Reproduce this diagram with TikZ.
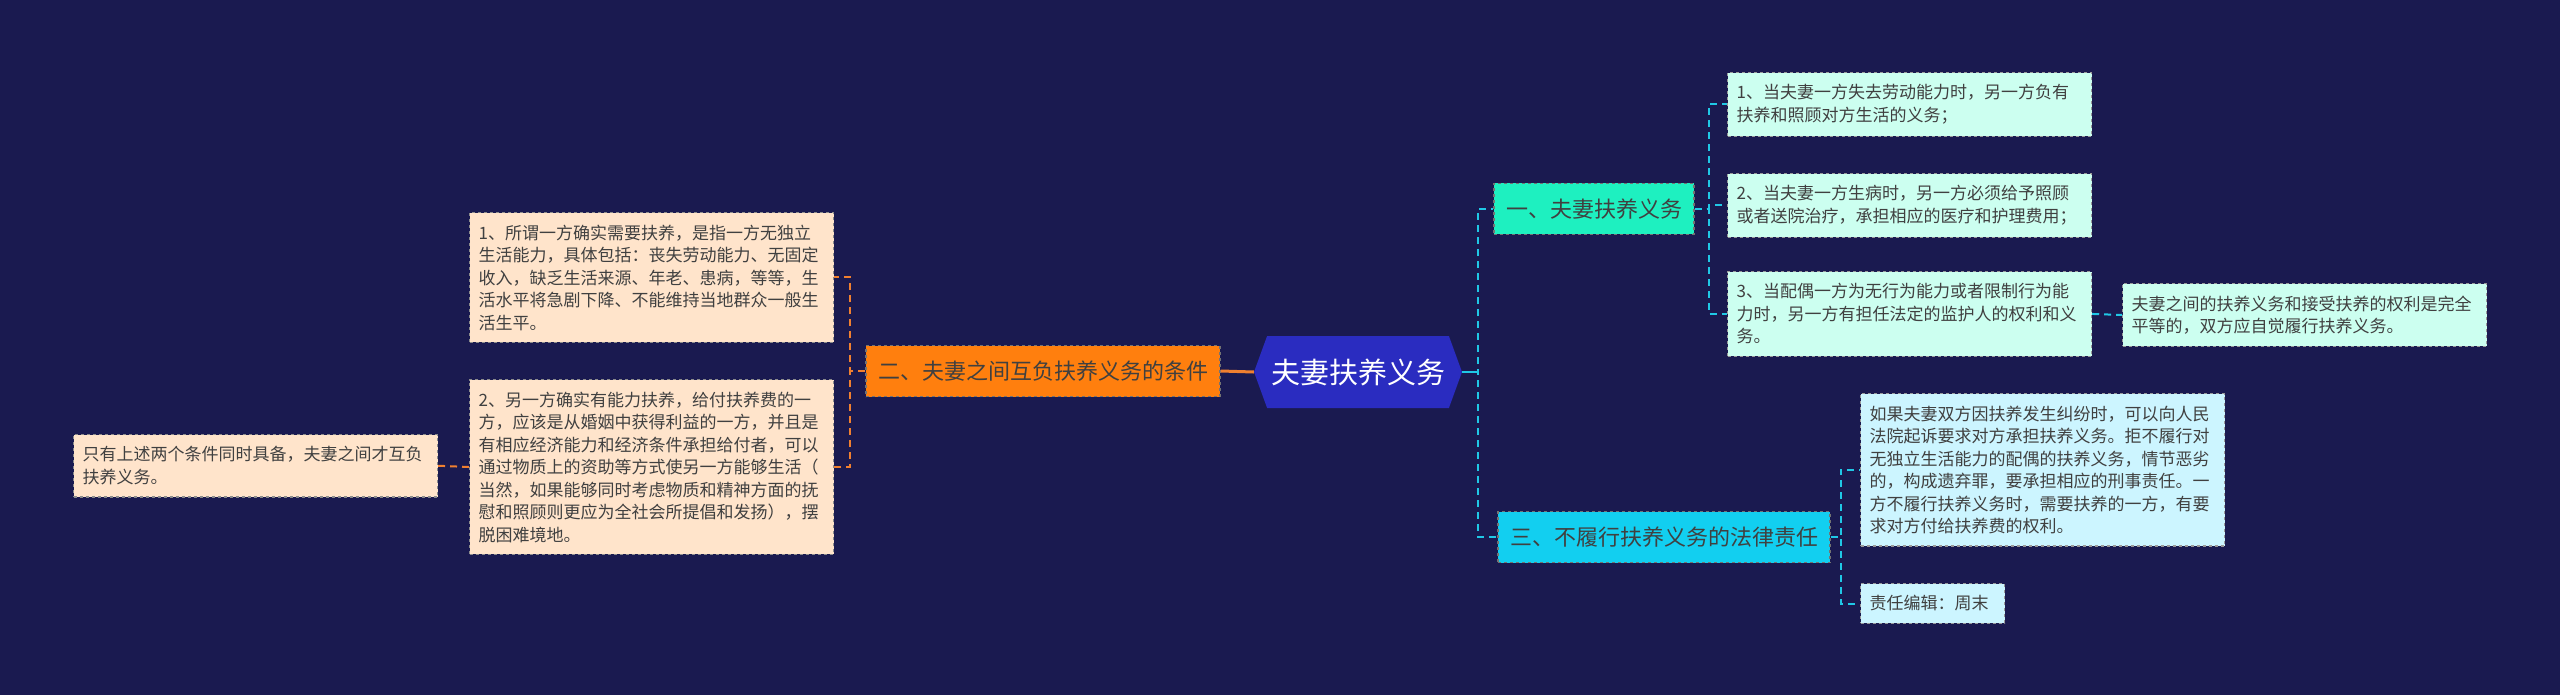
\documentclass[tikz,border=0pt]{standalone}
\usepackage{fontspec}
\setmainfont{Noto Sans CJK SC}
\usepackage{tikz}
\usetikzlibrary{positioning,shapes.symbols}
\usepackage{xcolor}

\definecolor{bgnavy}{HTML}{1A1A50}
\definecolor{rootblue}{HTML}{2A2CC0}
\definecolor{orangefill}{HTML}{FF7F0E}
\definecolor{peachfill}{HTML}{FFE4CB}
\definecolor{aquafill}{HTML}{1EF0C0}
\definecolor{cyanfill}{HTML}{12CFF0}
\definecolor{mintfill}{HTML}{CCFFF0}
\definecolor{icefill}{HTML}{CCF5FF}
\definecolor{lline}{HTML}{F08030}
\definecolor{rline}{HTML}{20C8E6}

\tikzset{
  leaf/.style={draw=#1, dashed, line width=1.2pt, anchor=north west,
    text width=346pt, inner xsep=9pt, inner ysep=12pt, align=left,
    text=black!75, font=\fontsize{17pt}{22.5pt}\selectfont},
  branch/.style={draw=black!55, dashed, line width=1.2pt, inner xsep=12pt,
    minimum height=51pt, text=black!75, font=\fontsize{22pt}{26pt}\selectfont},
  lconn/.style={draw=lline, line width=2pt, dash pattern=on 7pt off 5pt},
  rconn/.style={draw=rline, line width=2pt, dash pattern=on 7pt off 5pt},
}

\begin{document}
\begin{tikzpicture}[x=1pt, y=-1pt]
    % background
    \fill[bgnavy] (0,0) rectangle (2560,695);

    % Root
    \node[shape=signal, signal to=east and west, signal pointer angle=140,
      fill=rootblue, minimum width=208pt, minimum height=72pt, text=white,
      font=\fontsize{29pt}{34pt}\selectfont] (root) at (1358,372) {夫妻扶养义务};

    % Left branch
    \node[branch, fill=orangefill] (cond) at (1043,371) {二、夫妻之间互负扶养义务的条件};
    \node[leaf=black!45, fill=peachfill] (condA) at (469,212)
      {1、所谓一方确实需要扶养，是指一方无独立\\生活能力，具体包括：丧失劳动能力、无固定\\收入，缺乏生活来源、年老、患病，等等，生\\活水平将急剧下降、不能维持当地群众一般生\\活生平。};
    \node[leaf=black!45, fill=peachfill] (condB) at (469,379)
      {2、另一方确实有能力扶养，给付扶养费的一\\方，应该是从婚姻中获得利益的一方，并且是\\有相应经济能力和经济条件承担给付者，可以\\通过物质上的资助等方式使另一方能够生活（\\当然，如果能够同时考虑物质和精神方面的抚\\慰和照顾则更应为全社会所提倡和发扬），摆\\脱困难境地。};
    \node[leaf=black!45, fill=peachfill] (condC) at (73,434)
      {只有上述两个条件同时具备，夫妻之间才互负\\扶养义务。};

    \draw[lconn, solid, line width=3pt] (root.west) -- (cond.east);
    \draw[lconn] (cond.west) -- ++(-15,0) |- (condA.east);
    \draw[lconn] (cond.west) -- ++(-15,0) |- (condB.east);
    \draw[lconn] (condB.west) -- (condC.east);

    % Right branch: duty
    \node[branch, fill=aquafill] (duty) at (1594,209) {一、夫妻扶养义务};
    \node[leaf=black!40, fill=mintfill] (dutyA) at (1727,72)
      {1、当夫妻一方失去劳动能力时，另一方负有\\扶养和照顾对方生活的义务；};
    \node[leaf=black!40, fill=mintfill] (dutyB) at (1727,173)
      {2、当夫妻一方生病时，另一方必须给予照顾\\或者送院治疗，承担相应的医疗和护理费用；};
    \node[leaf=black!40, fill=mintfill] (dutyC) at (1727,271)
      {3、当配偶一方为无行为能力或者限制行为能\\力时，另一方有担任法定的监护人的权利和义\\务。};
    \node[leaf=black!40, fill=mintfill] (dutyD) at (2122,283)
      {夫妻之间的扶养义务和接受扶养的权利是完全\\平等的，双方应自觉履行扶养义务。};

    % Right branch: liability
    \node[branch, fill=cyanfill] (liab) at (1664,537) {三、不履行扶养义务的法律责任};
    \node[leaf=black!40, fill=icefill] (liabA) at (1860,393)
      {如果夫妻双方因扶养发生纠纷时，可以向人民\\法院起诉要求对方承担扶养义务。拒不履行对\\无独立生活能力的配偶的扶养义务，情节恶劣\\的，构成遗弃罪，要承担相应的刑事责任。一\\方不履行扶养义务时，需要扶养的一方，有要\\求对方付给扶养费的权利。};
    \node[leaf=black!40, fill=icefill, text width=126pt] (liabB) at (1860,583)
      {责任编辑：周末};

    \draw[rconn, solid] (root.east) -- ++(16,0);
    \draw[rconn] (root.east) -- ++(16,0) |- (duty.west);
    \draw[rconn] (root.east) -- ++(16,0) |- (liab.west);
    \draw[rconn] (duty.east) -- ++(14,0) |- (dutyA.west);
    \draw[rconn] (duty.east) -- ++(14,0) |- (dutyB.west);
    \draw[rconn] (duty.east) -- ++(14,0) |- (dutyC.west);
    \draw[rconn] (dutyC.east) -- (dutyD.west);
    \draw[rconn] (liab.east) -- ++(10,0) |- (liabA.west);
    \draw[rconn] (liab.east) -- ++(10,0) |- (liabB.west);
\end{tikzpicture}
\end{document}
